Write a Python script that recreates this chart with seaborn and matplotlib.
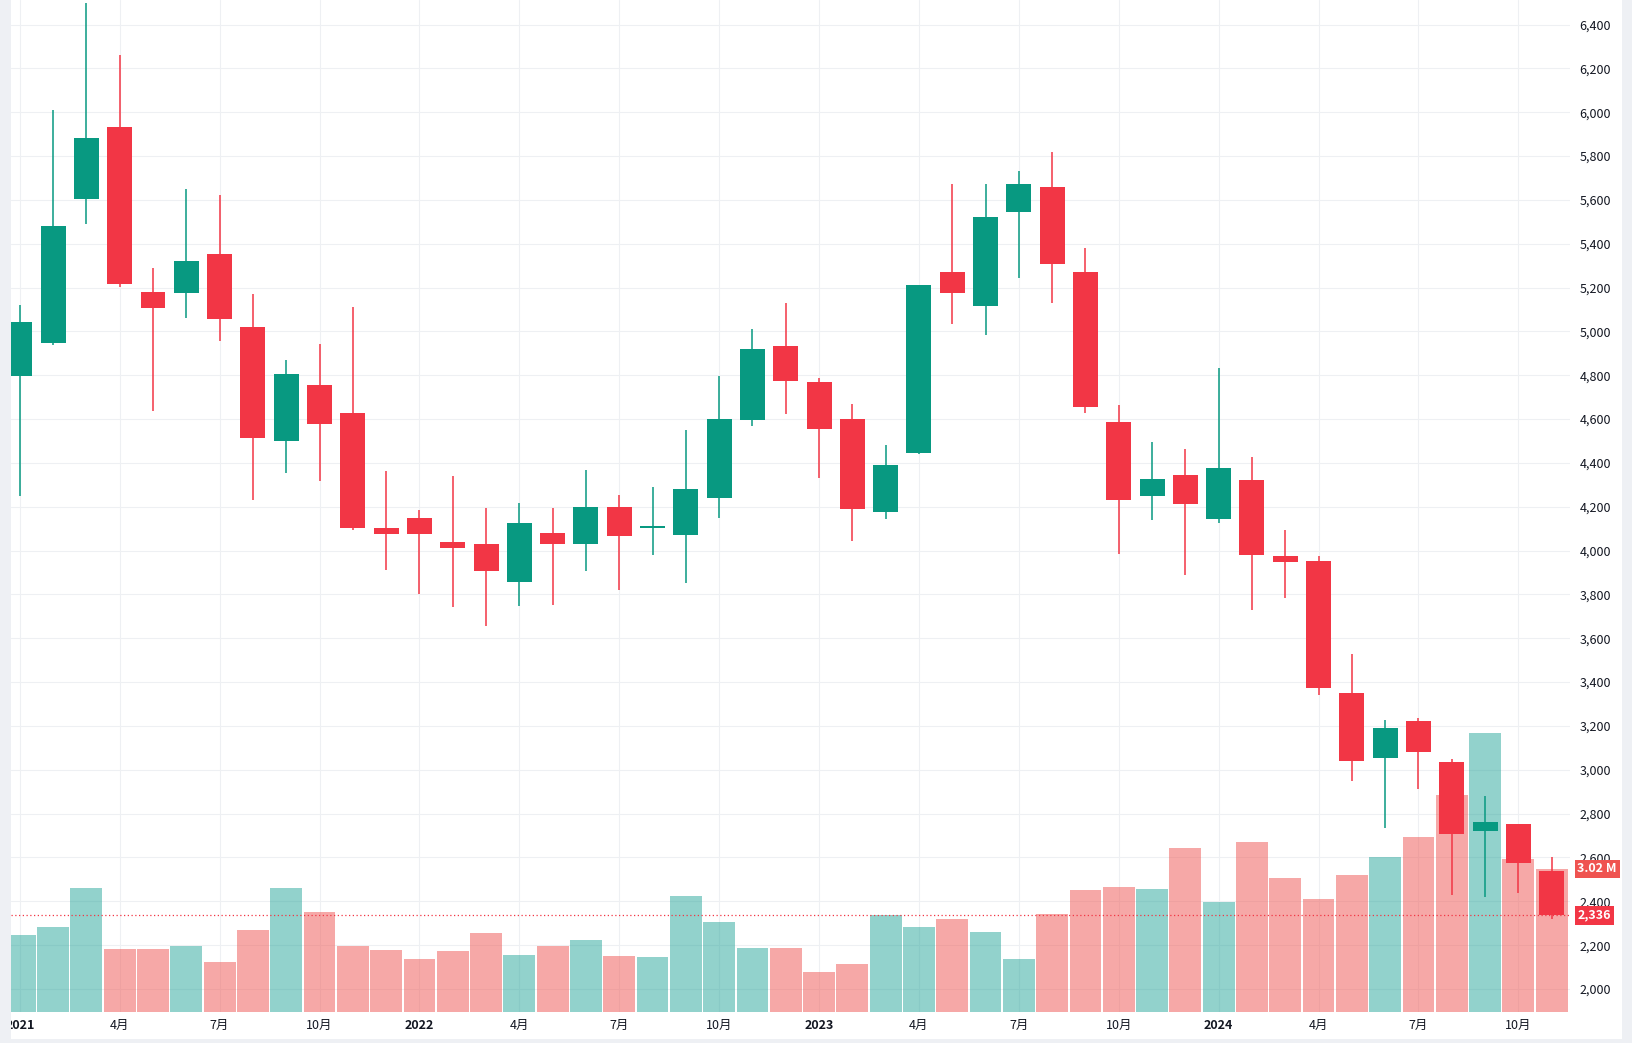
import matplotlib
matplotlib.use("Agg")
import matplotlib.pyplot as plt
import matplotlib.transforms as mtransforms
from matplotlib.patches import Rectangle
import pandas as pd
import seaborn as sns

# 月足データ (2021年1月〜2024年11月)
month_index = list(range(47))
opens = [4798, 4947, 5604, 5933, 5180, 5175, 5353, 5020, 4500, 4756, 4627, 4104,
         4150, 4040, 4031, 3859, 4081, 4028, 4200, 4101, 4069, 4238, 4598, 4933,
         4770, 4602, 4174, 4447, 5270, 5116, 5547, 5660, 5270, 4588, 4250, 4345,
         4145, 4322, 3977, 3954, 3350, 3053, 3221, 3034, 2719, 2754, 2538]
highs = [5121, 6012, 6500, 6263, 5289, 5650, 5624, 5170, 4870, 4942, 5111, 4364,
         4186, 4341, 4195, 4218, 4195, 4369, 4255, 4291, 4551, 4795, 5010, 5129,
         4786, 4670, 4483, 5211, 5673, 5673, 5733, 5820, 5380, 4666, 4496, 4464,
         4835, 4427, 4092, 3977, 3528, 3226, 3235, 3047, 2882, 2754, 2600]
lows = [4250, 4940, 5490, 5204, 4638, 5062, 4956, 4232, 4353, 4317, 4095, 3913,
        3803, 3741, 3654, 3745, 3754, 3905, 3818, 3982, 3850, 4151, 4567, 4621,
        4329, 4042, 4145, 4441, 5034, 4982, 5244, 5130, 4626, 3985, 4141, 3889,
        4127, 3728, 3782, 3342, 2948, 2733, 2911, 2429, 2419, 2437, 2318]
closes = [5043, 5482, 5883, 5217, 5106, 5322, 5056, 4513, 4805, 4576, 4101, 4078,
          4078, 4014, 3909, 4127, 4028, 4200, 4065, 4113, 4282, 4602, 4919, 4776,
          4553, 4192, 4391, 5211, 5176, 5522, 5673, 5308, 4653, 4232, 4327, 4214,
          4377, 3980, 3947, 3374, 3040, 3189, 3081, 2706, 2763, 2576, 2336]
# 出来高 (百万株)
volumes = [1.63, 1.80, 2.61, 1.34, 1.34, 1.39, 1.05, 1.74, 2.61, 2.12, 1.39, 1.30,
           1.11, 1.28, 1.67, 1.21, 1.40, 1.53, 1.19, 1.17, 2.44, 1.89, 1.36, 1.36,
           0.85, 1.01, 2.05, 1.79, 1.96, 1.69, 1.12, 2.07, 2.58, 2.64, 2.60, 3.47,
           2.32, 3.59, 2.83, 2.39, 2.89, 3.27, 3.70, 4.58, 5.89, 3.23, 3.02]

tick_positions = list(range(0, 47, 3))
tick_labels = ['2021', '4月', '7月', '10月', '2022', '4月', '7月', '10月',
               '2023', '4月', '7月', '10月', '2024', '4月', '7月', '10月']
price_ticks = list(range(2000, 6401, 200))

UP = '#089981'
DOWN = '#F23645'
VOL_UP = '#26a69a'
VOL_DOWN = '#ef5350'

sns.set_theme(style='white')
plt.rcParams['font.family'] = ['Noto Sans CJK JP', 'DejaVu Sans']

df = pd.DataFrame({'idx': month_index, 'open': opens, 'high': highs,
                   'low': lows, 'close': closes, 'volume': volumes})
df['dir'] = ['up' if c >= o else 'down' for o, c in zip(df['open'], df['close'])]

W, H = 1633, 1043
fig = plt.figure(figsize=(W / 100, H / 100), dpi=100)
fig.patch.set_facecolor('#eef0f4')
fig.add_artist(Rectangle((11 / W, 4 / H), (1622 - 11) / W, 1 - 4 / H,
                         transform=fig.transFigure, facecolor='white',
                         edgecolor='none', zorder=-5))

rect = [11 / W, (H - 1012) / H, (1570 - 11) / W, 1012 / H]

# 価格軸 (グリッドと目盛り)
ax = fig.add_axes(rect)
ax.patch.set_visible(False)
for s in ax.spines.values():
    s.set_visible(False)
ax.set_xticks(tick_positions)
ax.set_xticklabels(tick_labels)
for lab in ax.get_xticklabels():
    if lab.get_text().isdigit():
        lab.set_fontweight('bold')
ax.set_yticks(price_ticks)
ax.set_yticklabels([f'{p:,}' for p in price_ticks])
ax.yaxis.tick_right()
ax.tick_params(axis='x', length=0, pad=5, labelsize=9, labelcolor='#131722')
ax.tick_params(axis='y', length=0, pad=7, labelsize=9, labelcolor='#131722')
ax.grid(True, color='#eef0f3', linewidth=0.8)
ax.set_xlim(-0.264, 46.55)
ax.set_ylim(1895, 6512)

# 出来高
ax_vol = fig.add_axes(rect, sharex=ax)
ax_vol.set_axis_off()
sns.barplot(data=df, x='idx', y='volume', hue='dir',
            palette={'up': VOL_UP, 'down': VOL_DOWN}, native_scale=True,
            dodge=False, width=0.955, alpha=0.5, saturation=1,
            errorbar=None, legend=False, linewidth=0, ax=ax_vol)
ax_vol.set_ylim(0, 21.37)

# ローソク足
ax_c = fig.add_axes(rect, sharex=ax, sharey=ax)
ax_c.set_axis_off()
colors = [UP if d == 'up' else DOWN for d in df['dir']]
ax_c.axhline(closes[-1], color=DOWN, linestyle=(0, (1, 2)), linewidth=0.9, zorder=1)
ax_c.vlines(df['idx'], df['low'], df['high'], colors=colors, linewidth=1.1, zorder=2)
body_bottom = [min(o, c) for o, c in zip(opens, closes)]
body_height = [max(abs(c - o), 8) for o, c in zip(opens, closes)]
ax_c.bar(df['idx'], body_height, bottom=body_bottom, width=0.75,
         color=colors, linewidth=0, zorder=3)
ax.set_xlim(-0.264, 46.55)
ax.set_ylim(1895, 6512)

# 右側の価格ラベル
trans_p = mtransforms.blended_transform_factory(ax.transAxes, ax.transData)
ax.text(1.0048, closes[-1], f'{closes[-1]:,}', transform=trans_p, color='white',
        fontsize=9, fontweight='bold', va='center', ha='left', zorder=10,
        bbox=dict(boxstyle='square,pad=0.22', facecolor=DOWN, edgecolor='none'))
trans_v = mtransforms.blended_transform_factory(ax_vol.transAxes, ax_vol.transData)
ax_vol.text(1.0048, volumes[-1], f'{volumes[-1]:.2f} M', transform=trans_v,
            color='white', fontsize=9, fontweight='bold', va='center', ha='left',
            zorder=10, clip_on=False,
            bbox=dict(boxstyle='square,pad=0.22', facecolor='#ef5350', edgecolor='none'))

# 左端の余白 (2021 のラベルが切れる部分)
fig.add_artist(Rectangle((0, 0), 11 / W, 1, transform=fig.transFigure,
                         facecolor='#eef0f4', edgecolor='none', zorder=20))
fig.add_artist(Rectangle((0, 0), 1, 4 / H, transform=fig.transFigure,
                         facecolor='#eef0f4', edgecolor='none', zorder=20))
fig.add_artist(Rectangle((1622 / W, 0), 11 / W, 1, transform=fig.transFigure,
                         facecolor='#eef0f4', edgecolor='none', zorder=20))

fig.savefig('out.png', dpi=100)
